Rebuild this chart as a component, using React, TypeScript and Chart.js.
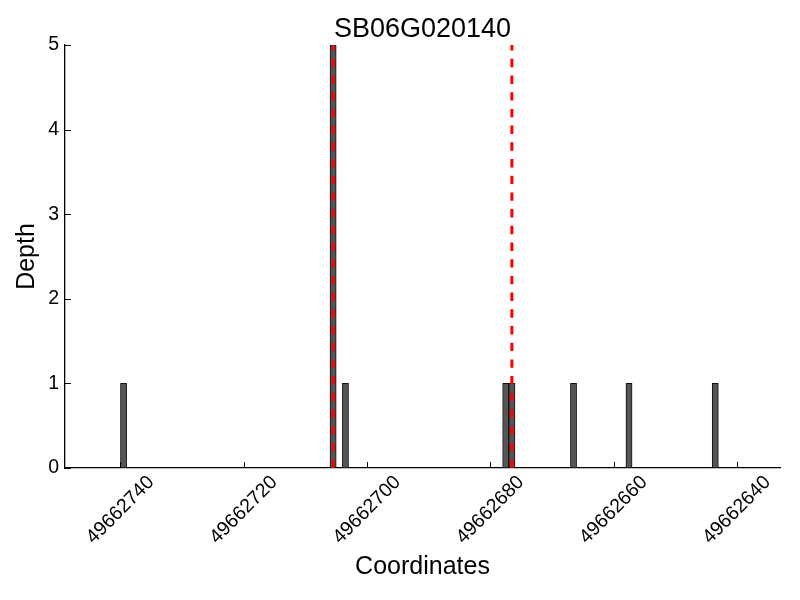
import React, { useEffect, useRef } from "react";
import { Chart, registerables } from "chart.js";

Chart.register(...registerables);

// Bar centres (genomic coordinate) and read depth
const coordinates = [49662739.5, 49662705.5, 49662703.5, 49662677.5, 49662676.5, 49662666.5, 49662657.5, 49662643.5];
const depths = [1, 5, 1, 1, 1, 1, 1, 1];
// Red dashed marker positions
const markers = [49662705.5, 49662676.5];
const chartTitle = "SB06G020140";
const xLabel = "Coordinates";
const yLabel = "Depth";
const xMin = 49662633;
const xMax = 49662749;
const xStep = 20;
const yMin = 0;
const yMax = 5;

const FONT = "'Liberation Sans', Arial, Helvetica, sans-serif";

const overlayPlugin = {
  id: "overlay",
  afterDatasetsDraw(chart: any) {
    const { ctx, chartArea, scales } = chart;
    const xs = scales.x;
    ctx.save();
    ctx.strokeStyle = "#ff0000";
    ctx.lineWidth = 3;
    ctx.setLineDash([8.4, 8.3]);
    ctx.beginPath();
    ctx.rect(chartArea.left, chartArea.top, chartArea.right - chartArea.left, chartArea.bottom - chartArea.top);
    ctx.clip();
    for (const m of markers) {
      const px = xs.getPixelForValue(m);
      ctx.beginPath();
      ctx.moveTo(px, chartArea.bottom);
      ctx.lineTo(px, chartArea.top);
      ctx.stroke();
    }
    ctx.restore();
  },
  afterDraw(chart: any) {
    const { ctx, chartArea, scales } = chart;
    const xs = scales.x;
    const ys = scales.y;
    ctx.save();
    ctx.strokeStyle = "#000";
    ctx.lineWidth = 1;
    ctx.setLineDash([]);
    ctx.beginPath();
    for (const t of xs.ticks) {
      const px = Math.round(xs.getPixelForValue(t.value)) + 0.5;
      ctx.moveTo(px, chartArea.bottom);
      ctx.lineTo(px, chartArea.bottom - 6);
    }
    for (const t of ys.ticks) {
      const py = Math.round(ys.getPixelForValue(t.value)) + 0.5;
      ctx.moveTo(chartArea.left, py);
      ctx.lineTo(chartArea.left + 6, py);
    }
    ctx.stroke();
    ctx.fillStyle = "#000";
    ctx.font = `19.5px ${FONT}`;
    ctx.textAlign = "center";
    ctx.textBaseline = "middle";
    for (const t of xs.ticks) {
      const px = xs.getPixelForValue(t.value);
      ctx.save();
      ctx.translate(px, chartArea.bottom + 42);
      ctx.rotate(-Math.PI / 4);
      ctx.fillText(String(t.value), 0, 0);
      ctx.restore();
    }
    ctx.font = `27px ${FONT}`;
    ctx.textBaseline = "alphabetic";
    ctx.fillText(chartTitle, (chartArea.left + chartArea.right) / 2, chartArea.top - 8);
    ctx.restore();
  },
};

export default function App() {
  const ref = useRef<HTMLCanvasElement | null>(null);
  useEffect(() => {
    if (!ref.current) return;
    const chart = new Chart(ref.current, {
      type: "bar",
      data: {
        datasets: [
          {
            data: coordinates.map((c, i) => ({ x: c, y: depths[i] })),
            backgroundColor: "#555555",
            borderColor: "#111111",
            borderWidth: 1,
            categoryPercentage: 1,
            barPercentage: 1,
          },
        ],
      },
      options: {
        animation: false,
        responsive: false,
        layout: { padding: { top: 45, right: 20, left: 0, bottom: 0 } },
        plugins: {
          legend: { display: false },
          tooltip: { enabled: false },
          title: { display: false },
        },
        scales: {
          x: {
            type: "linear",
            reverse: true,
            min: xMin,
            max: xMax,
            offset: false,
            grid: { display: true, drawOnChartArea: false, drawTicks: false, offset: false },
            border: { display: true, color: "#000", width: 1.3 },
            ticks: { stepSize: xStep, includeBounds: false, display: false },
            title: {
              display: true,
              text: xLabel,
              color: "#000",
              font: { family: FONT, size: 25 },
              padding: { top: 0, bottom: 17.5 },
            },
            afterFit: (s: any) => {
              s.height = 132;
            },
          },
          y: {
            min: yMin,
            max: yMax,
            grid: { display: true, drawOnChartArea: false, drawTicks: false },
            border: { display: true, color: "#000", width: 1.3 },
            ticks: {
              stepSize: 1,
              color: "#000",
              padding: 6,
              font: { family: FONT, size: 19.5 },
            },
            title: {
              display: true,
              text: yLabel,
              color: "#000",
              font: { family: FONT, size: 25 },
              padding: { top: 12, bottom: 0 },
            },
            afterFit: (s: any) => {
              s.width = 65;
            },
          },
        },
      },
      plugins: [overlayPlugin],
    } as any);
    return () => chart.destroy();
  }, []);
  return (
    <div style={{ position: "fixed", left: 0, top: 0, width: 800, height: 600, background: "#fff" }}>
      <canvas ref={ref} width={800} height={600} style={{ display: "block" }} />
    </div>
  );
}
